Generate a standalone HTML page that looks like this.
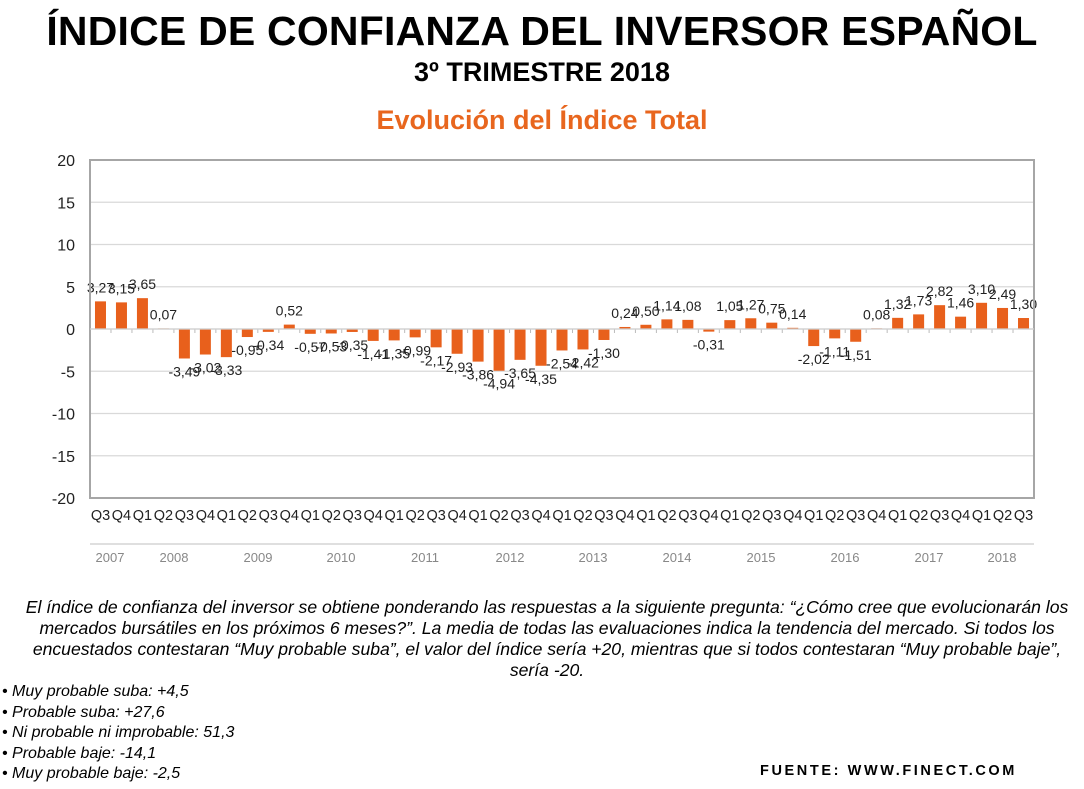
<!DOCTYPE html>
<html><head><meta charset="utf-8"><style>
body{margin:0;width:1084px;height:789px;background:#fff;font-family:"Liberation Sans",sans-serif;overflow:hidden;position:relative}
.t{position:absolute;left:0;width:1084px;text-align:center;font-weight:bold;color:#000}
.p{position:absolute;font-style:italic;font-size:16px;color:#000;line-height:21px}
</style></head><body>
<div class="t" style="top:8px;font-size:41px;letter-spacing:0.2px">ÍNDICE DE CONFIANZA DEL INVERSOR ESPAÑOL</div>
<div class="t" style="top:57px;font-size:27px">3º TRIMESTRE 2018</div>
<div class="t" style="top:105px;font-size:27px;color:#e8661e">Evolución del Índice Total</div>
<svg id="c" width="1084" height="580" style="position:absolute;left:0;top:0" font-family="Liberation Sans, sans-serif"></svg>
<div class="p" style="left:-10px;width:1114px;text-align:center;top:597px;font-size:17.6px">El índice de confianza del inversor se obtiene ponderando las respuestas a la siguiente pregunta: “¿Cómo cree que evolucionarán los<br>mercados bursátiles en los próximos 6 meses?”. La media de todas las evaluaciones indica la tendencia del mercado. Si todos los<br>encuestados contestaran “Muy probable suba”, el valor del índice sería +20, mientras que si todos contestaran “Muy probable baje”,<br>sería -20.</div>
<div class="p" style="left:2px;top:682px;line-height:20.5px">• Muy probable suba: +4,5<br>• Probable suba: +27,6<br>• Ni probable ni improbable: 51,3<br>• Probable baje: -14,1<br>• Muy probable baje: -2,5</div>
<div style="position:absolute;left:760px;top:763px;font-weight:bold;font-size:14.5px;letter-spacing:2.6px">FUENTE: WWW.FINECT.COM</div>
<script>
var v=[3.27,3.15,3.65,0.07,-3.49,-3.02,-3.33,-0.95,-0.34,0.52,-0.57,-0.53,-0.35,-1.41,-1.35,-0.99,-2.17,-2.93,-3.86,-4.94,-3.65,-4.35,-2.54,-2.42,-1.30,0.24,0.50,1.14,1.08,-0.31,1.05,1.27,0.75,0.14,-2.02,-1.11,-1.51,0.08,1.32,1.73,2.82,1.46,3.10,2.49,1.30];
var L=90,R=1034,T=160,B=498,Z=329,s=(B-T)/40,w=(R-L)/45,h='';
for(var i=-20;i<=20;i+=5){var y=Z-i*s;if(i!=-20&&i!=20)h+='<line x1="'+L+'" x2="'+R+'" y1="'+y+'" y2="'+y+'" stroke="#d9d9d9" stroke-width="1.3"/>';h+='<text x="75" y="'+(y+6)+'" font-size="16" text-anchor="end" fill="#222">'+i+'</text>';}
var q=['Q3','Q4','Q1','Q2'];
for(var j=0;j<45;j++){var x=L+w*j,c=x+w/2,val=v[j],y=val>=0?Z-val*s:Z,hh=Math.abs(val)*s;
h+='<rect x="'+(c-5.5)+'" y="'+y+'" width="11" height="'+hh+'" fill="#e8601c"/>';
h+='<line x1="'+(x+w)+'" x2="'+(x+w)+'" y1="'+Z+'" y2="'+(Z+4)+'" stroke="#bbb"/>';
var ty=val>=0?Z-val*s-9:Z-val*s+18;
h+='<text x="'+c+'" y="'+ty+'" font-size="14" text-anchor="middle" fill="#222">'+val.toFixed(2).replace('.',',')+'</text>';
h+='<text x="'+c+'" y="520" font-size="14.5" text-anchor="middle" fill="#222">'+q[j%4]+'</text>';}
h+='<rect x="'+L+'" y="'+T+'" width="'+(R-L)+'" height="'+(B-T)+'" fill="none" stroke="#a6a6a6" stroke-width="2"/>';
h+='<line x1="'+L+'" x2="'+R+'" y1="'+Z+'" y2="'+Z+'" stroke="#d0d0d0" stroke-width="1.3"/>';
h+='<line x1="'+L+'" x2="'+R+'" y1="544" y2="544" stroke="#ccc" stroke-width="1.3"/>';
var yr=[[110,2007],[174,2008],[258,2009],[341,2010],[425,2011],[510,2012],[593,2013],[677,2014],[761,2015],[845,2016],[929,2017],[1002,2018]];
yr.forEach(function(a){h+='<text x="'+a[0]+'" y="562" font-size="13" text-anchor="middle" fill="#888">'+a[1]+'</text>';});
document.getElementById('c').innerHTML=h;
</script>
</body></html>
